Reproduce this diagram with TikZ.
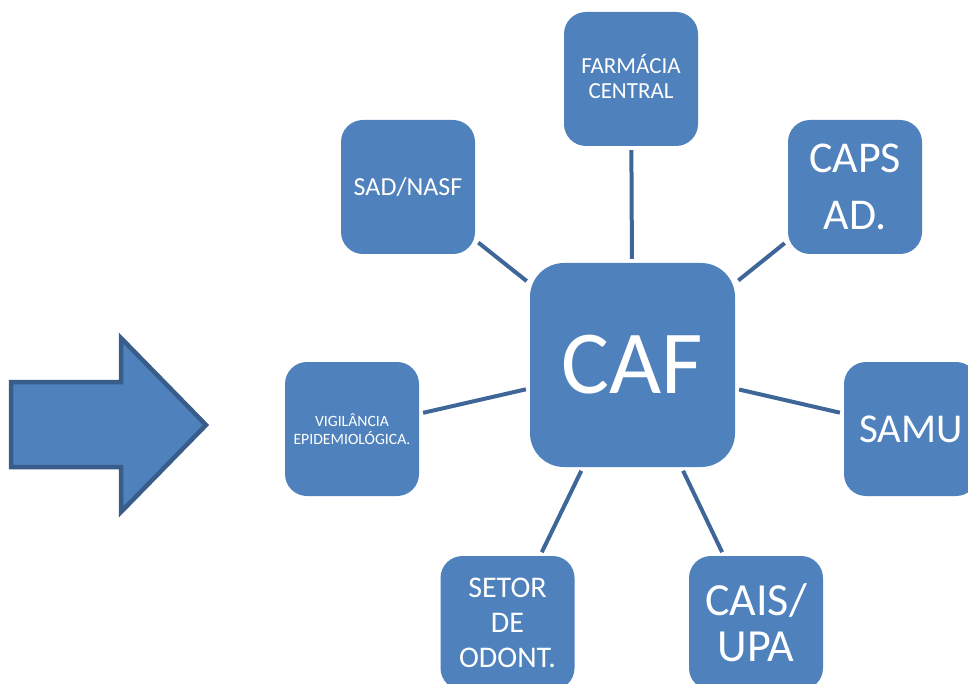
\documentclass[tikz,border=0pt]{standalone}
\usepackage{fontspec}
\setmainfont{Carlito}
\definecolor{boxblue}{HTML}{4F81BD}
\definecolor{linkblue}{HTML}{3F6699}
\definecolor{arrowedge}{HTML}{385D8A}
\tikzset{
  sbox/.style={fill=boxblue, draw=none, rounded corners=22pt, minimum width=134pt, minimum height=134pt, inner sep=0pt, text=white, align=center},
  bigbox/.style={fill=boxblue, draw=none, rounded corners=34pt, minimum width=205pt, minimum height=204pt, inner sep=0pt, text=white, align=center},
  conn/.style={draw=linkblue, line width=4pt, shorten <=4pt, shorten >=4pt},
  fs/.style 2 args={font=\fontsize{#1}{#2}\selectfont}
}
\begin{document}
\begin{tikzpicture}[x=1pt,y=-1pt]
\useasboundingbox (0,0) rectangle (968,684);
\fill[white] (0,0) rectangle (968,684);
\begin{scope}
\clip (0,0) rectangle (968,684);
% big arrow
\draw[fill=boxblue, draw=arrowedge, line width=4.5pt, line join=miter]
  (11,382) -- (121,382) -- (121,338) -- (206,425) -- (121,512) -- (121,467) -- (11,467) -- cycle;
% boxes
\node[bigbox, fs={90}{100}] (caf) at (632.5,365) {CAF};
\node[sbox, fs={23}{25}] (farm) at (631,79) {};
\node[fs={23}{25}, text=white, align=center, inner sep=0pt] (farmtxt) at (631,76) {FARMÁCIA\\CENTRAL};
\node[sbox, fs={44}{57}] (caps) at (855,187) {CAPS\\AD.};
\node[sbox, fs={26}{28}] (sad) at (408,187) {SAD/NASF};
\node[sbox, fs={15.7}{17.5}] (vig) at (352,429) {VIGILÂNCIA\\EPIDEMIOLÓGICA.};
\node[sbox, fs={41}{46}] (samu) at (911,429) {SAMU};
\node[sbox, fs={30}{35}] (setor) at (507.5,623) {SETOR\\DE\\ODONT.};
\node[sbox, fs={46}{46}] (cais) at (756,623) {CAIS/\\UPA};
% connectors
\draw[conn] (caf) -- (farm);
\draw[conn] (caf) -- (caps);
\draw[conn] (caf) -- (sad);
\draw[conn] (caf) -- (vig);
\draw[conn] (caf) -- (samu);
\draw[conn] (caf) -- (setor);
\draw[conn] (caf) -- (cais);
\end{scope}
\end{tikzpicture}
\end{document}
